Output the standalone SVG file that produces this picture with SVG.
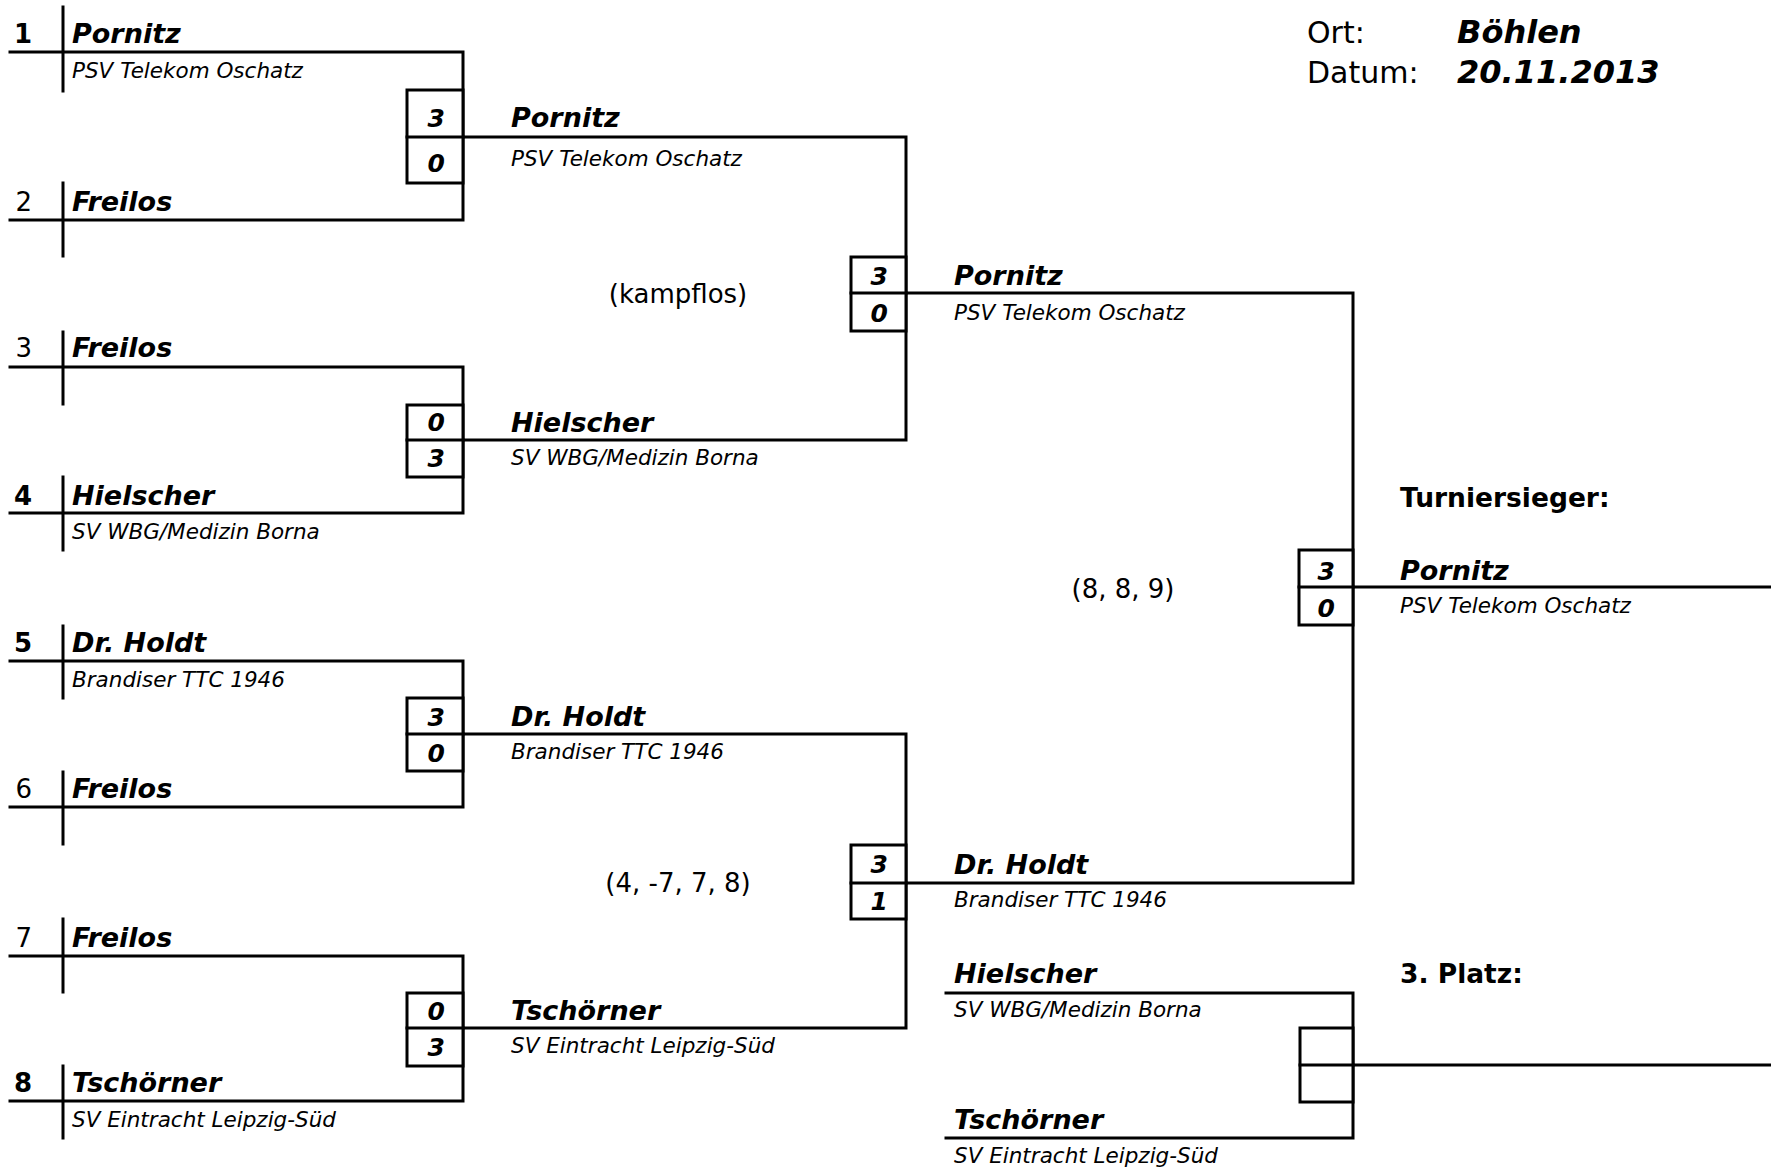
<svg xmlns="http://www.w3.org/2000/svg" width="1771" height="1170" viewBox="0 0 1771 1170">
<style>
.ln{stroke:#000;stroke-width:3;fill:none;stroke-linecap:square}
.bx{stroke:#000;stroke-width:3;fill:#fff}
text{font-family:"DejaVu Sans",Verdana,sans-serif;fill:#000}
.nm{font-size:27px;font-weight:bold;font-style:italic}
.cl{font-size:21.5px;font-style:italic}
.sc{font-size:25px;font-weight:bold;font-style:italic;text-anchor:end}
.nb{font-size:26px;font-weight:bold;text-anchor:end}
.nr{font-size:26px;text-anchor:end}
.nt{font-size:26px;text-anchor:middle}
.hd{font-size:30px}
.hv{font-size:32px;font-weight:bold;font-style:italic}
.lb{font-size:26.5px;font-weight:bold}
</style>
<rect width="1771" height="1170" fill="#fff"/>

<g id="header">
<text class="hd" x="1307" y="43">Ort:</text>
<text class="hv" x="1457" y="43">Böhlen</text>
<text class="hd" x="1307" y="83">Datum:</text>
<text class="hv" x="1457" y="83">20.11.2013</text>
</g>

<g id="connectors">
<path class="ln" d="M10 52H463V220H10"/>
<path class="ln" d="M63 7V91M63 183V256"/>
<path class="ln" d="M10 367H463V513H10"/>
<path class="ln" d="M63 332V404M63 477V550"/>
<path class="ln" d="M10 661H463V807H10"/>
<path class="ln" d="M63 626V698M63 772V844"/>
<path class="ln" d="M10 956H463V1101H10"/>
<path class="ln" d="M63 919V992M63 1066V1138"/>
<path class="ln" d="M463 137H906V440H463"/>
<path class="ln" d="M463 734H906V1028H463"/>
<path class="ln" d="M906 293H1353V883H906"/>
<path class="ln" d="M1353 587H1771"/>
<path class="ln" d="M946 993H1353V1138H946"/>
<path class="ln" d="M1353 1065H1771"/>
</g>

<g id="seed1"><text class="nb" x="32" y="43">1</text><text class="nm" x="72" y="43">Pornitz</text><text class="cl" x="72" y="78">PSV Telekom Oschatz</text></g>
<g id="seed2"><text class="nr" x="32" y="211">2</text><text class="nm" x="72" y="211">Freilos</text></g>
<g id="seed3"><text class="nr" x="32" y="357">3</text><text class="nm" x="72" y="357">Freilos</text></g>
<g id="seed4"><text class="nb" x="32" y="505">4</text><text class="nm" x="72" y="505">Hielscher</text><text class="cl" x="72" y="539">SV WBG/Medizin Borna</text></g>
<g id="seed5"><text class="nb" x="32" y="652">5</text><text class="nm" x="72" y="652">Dr. Holdt</text><text class="cl" x="72" y="687">Brandiser TTC 1946</text></g>
<g id="seed6"><text class="nr" x="32" y="798">6</text><text class="nm" x="72" y="798">Freilos</text></g>
<g id="seed7"><text class="nr" x="32" y="947">7</text><text class="nm" x="72" y="947">Freilos</text></g>
<g id="seed8"><text class="nb" x="32" y="1092">8</text><text class="nm" x="72" y="1092">Tschörner</text><text class="cl" x="72" y="1127">SV Eintracht Leipzig-Süd</text></g>

<g id="match1"><rect class="bx" x="407" y="90" width="56" height="93"/><path class="ln" d="M407 137H463"/><text class="sc" x="445" y="127">3</text><text class="sc" x="445" y="172">0</text></g>
<g id="match2"><rect class="bx" x="407" y="405" width="56" height="72"/><path class="ln" d="M407 440H463"/><text class="sc" x="445" y="431">0</text><text class="sc" x="445" y="467">3</text></g>
<g id="match3"><rect class="bx" x="407" y="698" width="56" height="73"/><path class="ln" d="M407 734H463"/><text class="sc" x="445" y="726">3</text><text class="sc" x="445" y="762">0</text></g>
<g id="match4"><rect class="bx" x="407" y="993" width="56" height="73"/><path class="ln" d="M407 1028H463"/><text class="sc" x="445" y="1020">0</text><text class="sc" x="445" y="1056">3</text></g>

<g id="r2-pornitz"><text class="nm" x="511" y="127">Pornitz</text><text class="cl" x="511" y="166">PSV Telekom Oschatz</text></g>
<g id="r2-hielscher"><text class="nm" x="511" y="432">Hielscher</text><text class="cl" x="511" y="465">SV WBG/Medizin Borna</text></g>
<g id="r2-holdt"><text class="nm" x="511" y="726">Dr. Holdt</text><text class="cl" x="511" y="759">Brandiser TTC 1946</text></g>
<g id="r2-tschoerner"><text class="nm" x="511" y="1020">Tschörner</text><text class="cl" x="511" y="1053">SV Eintracht Leipzig-Süd</text></g>

<g id="note1"><text class="nt" x="678" y="303">(kampflos)</text></g>
<g id="note2"><text class="nt" x="678" y="892">(4, -7, 7, 8)</text></g>
<g id="note3"><text class="nt" x="1123" y="598">(8, 8, 9)</text></g>

<g id="semi1"><rect class="bx" x="851" y="257" width="55" height="74"/><path class="ln" d="M851 293H906"/><text class="sc" x="888" y="285">3</text><text class="sc" x="888" y="322">0</text></g>
<g id="semi2"><rect class="bx" x="851" y="845" width="55" height="74"/><path class="ln" d="M851 883H906"/><text class="sc" x="888" y="873">3</text><text class="sc" x="888" y="910">1</text></g>

<g id="r3-pornitz"><text class="nm" x="954" y="285">Pornitz</text><text class="cl" x="954" y="320">PSV Telekom Oschatz</text></g>
<g id="r3-holdt"><text class="nm" x="954" y="874">Dr. Holdt</text><text class="cl" x="954" y="907">Brandiser TTC 1946</text></g>

<g id="final"><rect class="bx" x="1299" y="550" width="54" height="75"/><path class="ln" d="M1299 587H1353"/><text class="sc" x="1335" y="580">3</text><text class="sc" x="1335" y="617">0</text></g>
<g id="winner"><text class="lb" x="1400" y="507">Turniersieger:</text><text class="nm" x="1400" y="580">Pornitz</text><text class="cl" x="1400" y="613">PSV Telekom Oschatz</text></g>

<g id="third-hielscher"><text class="nm" x="954" y="983">Hielscher</text><text class="cl" x="954" y="1017">SV WBG/Medizin Borna</text></g>
<g id="third-tschoerner"><text class="nm" x="954" y="1129">Tschörner</text><text class="cl" x="954" y="1163">SV Eintracht Leipzig-Süd</text></g>
<g id="third-match"><rect class="bx" x="1300" y="1028" width="53" height="74"/><path class="ln" d="M1300 1065H1353"/><text class="lb" x="1400" y="983">3. Platz:</text></g>
</svg>
